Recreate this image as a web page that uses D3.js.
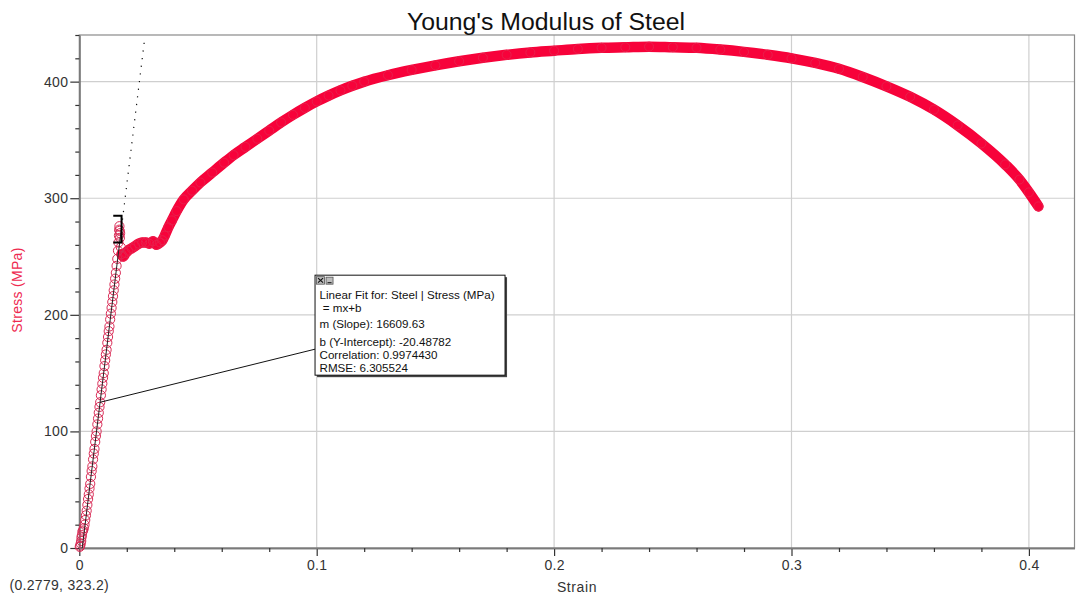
<!DOCTYPE html>
<html><head><meta charset="utf-8">
<script src="https://cdn.jsdelivr.net/npm/d3@7"></script>
<style>body{margin:0;background:#fff;} svg{display:block;font-family:"Liberation Sans",Arial,sans-serif;}</style>
</head><body><svg id="c" width="1079" height="596"></svg>
<script>
const title = "Young's Modulus of Steel";
const xLabel = "Strain";
const yLabel = "Stress (MPa)";
const cursorReadout = "(0.2779, 323.2)";

const elasticStrain = [0.0002,0.0004,0.0006,0.0008,0.0009,0.0011,0.0013,0.0016,0.0019,0.0022,0.0025,0.0028,0.0031,0.0034,0.0037,0.0040,0.0043,0.0046,0.0049,0.0052,0.0055,0.0058,0.0061,0.0064,0.0067,0.0070,0.0073,0.0076,0.0079,0.0082,0.0085,0.0088,0.0091,0.0094,0.0097,0.0100,0.0103,0.0106,0.0109,0.0112,0.0115,0.0118,0.0121,0.0124,0.0127,0.0130,0.0133,0.0136,0.0139,0.0142,0.0145,0.0148,0.0151,0.0154,0.0157,0.0160,0.0163,0.0165,0.0167,0.0168,0.0169,0.0170,0.0171,0.0172,0.0175];
const elasticStress = [1,2,4,6,9,11,14,15,17,20,24,28,32,37,42,46,51,55,61,66,70,76,81,85,91,96,100,106,111,116,121,125,131,136,141,146,150,156,161,166,170,176,181,186,190,196,201,206,211,216,221,226,231,236,242,248,255,262,268,273,276,272,266,270,258];

const plasticStrain = [0.0178,0.0185,0.0195,0.0205,0.0220,0.0235,0.0250,0.0265,0.0280,0.0295,0.0310,0.0325,0.0340,0.0350,0.0360,0.0375,0.0390,0.0410,0.0440,0.0475,0.0510,0.0560,0.0610,0.0650,0.0700,0.0750,0.0800,0.0850,0.0900,0.0950,0.1000,0.1050,0.1100,0.1150,0.1200,0.1300,0.1400,0.1500,0.1600,0.1700,0.1800,0.1900,0.2000,0.2100,0.2200,0.2300,0.2400,0.2500,0.2600,0.2700,0.2800,0.2900,0.3000,0.3100,0.3200,0.3300,0.3400,0.3500,0.3600,0.3700,0.3800,0.3900,0.3960,0.4000,0.4040];
const plasticStress = [252,250,253,255,257,259,261,262,262,261,263,260,262,264,268,275,281,289,299,306.5,313.5,322,330.5,337,344,351,358,365,371.5,377.5,383,388,392.5,396.5,400,405.5,410,414,417.5,420.5,423,425,426.5,428,429,429.5,430,429.5,429,427.5,425.5,423,420,416,411,404,396,387,376,362.5,347,329,316,305,293];

const xMajorTicks = [0, 0.1, 0.2, 0.3, 0.4];
const xTickLabels = ["0", "0.1", "0.2", "0.3", "0.4"];
const xMinorTicks = [0.02,0.04,0.06,0.08,0.12,0.14,0.16,0.18,0.22,0.24,0.26,0.28,0.32,0.34,0.36,0.38];
const yMajorTicks = [0, 100, 200, 300, 400];
const yTickLabels = ["0", "100", "200", "300", "400"];
const yMinorTicks = [20,40,60,80,120,140,160,180,220,240,260,280,320,340,360,380,420,440];

const fitText = ["Linear Fit for: Steel | Stress (MPa)", " = mx+b", "m (Slope): 16609.63", "b (Y-Intercept): -20.48782", "Correlation: 0.9974430", "RMSE: 6.305524"];
const fitSlope = 16609.63;
const fitIntercept = -20.48782;
const fitSolidStress = [0, 275];
const fitDottedEndStress = 434;
const bracketStrain = [0.0143, 0.0178];
const bracketStress = [285, 262];
const leaderStress = 125;
const boxAnchor = [0.0993, 234]; // strain, stress of box top-left

const m = {left: 79.3, top: 35, right: 1074.5, bottom: 548};
const x = d3.scaleLinear().domain([0, (m.right - m.left) / 2374]).range([m.left, m.right]);
const y = d3.scaleLinear().domain([0, 440]).range([m.bottom, m.top]);
const svg = d3.select("#c");
const red = "#f7023a";

// grid
svg.append("g").selectAll("line").data(xMajorTicks.slice(1)).join("line")
  .attr("x1", d => x(d)).attr("x2", d => x(d)).attr("y1", m.top).attr("y2", m.bottom)
  .attr("stroke", "#cfcfcf").attr("stroke-width", 1.2);
svg.append("g").selectAll("line").data(yMajorTicks.slice(1)).join("line")
  .attr("y1", d => y(d)).attr("y2", d => y(d)).attr("x1", m.left).attr("x2", m.right)
  .attr("stroke", "#cfcfcf").attr("stroke-width", 1.2);

// frame
svg.append("rect").attr("x", m.left).attr("y", m.top).attr("width", m.right - m.left).attr("height", m.bottom - m.top)
  .attr("fill", "none").attr("stroke", "#8a8a8a").attr("stroke-width", 1.2);

// axes
const xAxis = svg.append("g").attr("transform", `translate(0,${m.bottom})`)
  .call(d3.axisBottom(x).tickValues(xMajorTicks).tickSize(8).tickSizeOuter(0).tickPadding(4)
    .tickFormat((d, i) => xTickLabels[i]));
const xMinor = svg.append("g").attr("transform", `translate(0,${m.bottom})`)
  .call(d3.axisBottom(x).tickValues(xMinorTicks).tickSize(4).tickSizeOuter(0).tickFormat(""));
const yAxis = svg.append("g").attr("transform", `translate(${m.left},0)`)
  .call(d3.axisLeft(y).tickValues(yMajorTicks).tickSize(9).tickSizeOuter(0).tickPadding(2)
    .tickFormat((d, i) => yTickLabels[i]));
const yMinor = svg.append("g").attr("transform", `translate(${m.left},0)`)
  .call(d3.axisLeft(y).tickValues(yMinorTicks).tickSize(4).tickSizeOuter(0).tickFormat(""));
[xAxis, xMinor, yAxis, yMinor].forEach(g => {
  g.select(".domain").attr("stroke", "#7a7a7a").attr("stroke-width", 1.6);
  g.selectAll(".tick line").attr("stroke", "#333").attr("stroke-width", 1.2);
  g.selectAll("text").attr("font-family", "Liberation Sans, Arial, sans-serif").attr("font-size", 14)
    .attr("letter-spacing", 0.3).attr("fill", "#333");
});

// data band (plastic)
const band = d3.line().x((d, i) => x(plasticStrain[i])).y((d, i) => y(plasticStress[i])).curve(d3.curveMonotoneX);
svg.append("path").attr("d", band(plasticStrain)).attr("fill", "none").attr("stroke", red)
  .attr("stroke-width", 10.5).attr("stroke-linecap", "round").attr("stroke-linejoin", "round");
svg.append("g").selectAll("circle").data(plasticStrain).join("circle")
  .attr("cx", (d) => x(d)).attr("cy", (d, i) => y(plasticStress[i])).attr("r", 4.5)
  .attr("fill", "none").attr("stroke", "#e8204c").attr("stroke-width", 1);

// elastic circles
svg.append("g").selectAll("circle").data(elasticStrain).join("circle")
  .attr("cx", d => x(d)).attr("cy", (d, i) => y(elasticStress[i])).attr("r", 4.6)
  .attr("fill", "none").attr("stroke", "#d92a55").attr("stroke-width", 1);

// fit line
const fitX = s => (s - fitIntercept) / fitSlope;
svg.append("line").attr("x1", x(fitX(fitSolidStress[0]))).attr("y1", y(fitSolidStress[0]))
  .attr("x2", x(fitX(fitSolidStress[1]))).attr("y2", y(fitSolidStress[1]))
  .attr("stroke", "#222").attr("stroke-width", 1);
svg.append("line").attr("x1", x(fitX(fitSolidStress[1]))).attr("y1", y(fitSolidStress[1]))
  .attr("x2", x(fitX(fitDottedEndStress))).attr("y2", y(fitDottedEndStress))
  .attr("stroke", "#111").attr("stroke-width", 1.2).attr("stroke-dasharray", "1.2,6.5");

// bracket
svg.append("path").attr("d",
  `M${x(bracketStrain[0])},${y(bracketStress[0])}H${x(bracketStrain[1])}V${y(bracketStress[1])}H${x(bracketStrain[0])}`)
  .attr("fill", "none").attr("stroke", "#000").attr("stroke-width", 2);

// annotation box
const bx = x(boxAnchor[0]), by = y(boxAnchor[1]), bw = 190, bh = 100;
svg.append("line").attr("x1", x(fitX(leaderStress))).attr("y1", y(leaderStress))
  .attr("x2", bx).attr("y2", by + 74).attr("stroke", "#111").attr("stroke-width", 1);
svg.append("rect").attr("x", bx + 2).attr("y", by + 2).attr("width", bw).attr("height", bh).attr("fill", "#444");
svg.append("rect").attr("x", bx).attr("y", by).attr("width", bw).attr("height", bh)
  .attr("fill", "#fff").attr("stroke", "#111").attr("stroke-width", 1);
// icons
svg.append("rect").attr("x", bx + 1.5).attr("y", by + 1.5).attr("width", 8).attr("height", 7.5)
  .attr("fill", "#bdbdbd").attr("stroke", "#555").attr("stroke-width", 0.8);
svg.append("path").attr("d", `M${bx+3},${by+3}L${bx+8},${by+7.5}M${bx+8},${by+3}L${bx+3},${by+7.5}`)
  .attr("stroke", "#111").attr("stroke-width", 1.2);
svg.append("rect").attr("x", bx + 11).attr("y", by + 2).attr("width", 7).attr("height", 7)
  .attr("fill", "#bdbdbd").attr("stroke", "#555").attr("stroke-width", 0.8);
svg.append("line").attr("x1", bx + 12.5).attr("x2", bx + 16.5).attr("y1", by + 7.5).attr("y2", by + 7.5)
  .attr("stroke", "#111").attr("stroke-width", 1);
const lineY = [24.3, 36.7, 53.3, 71, 84.3, 96.7];
svg.append("g").selectAll("text").data(fitText).join("text")
  .attr("x", bx + 4.5).attr("y", (d, i) => by + lineY[i]).attr("font-size", 11.6).attr("fill", "#111")
  .attr("xml:space", "preserve").style("white-space", "pre").text(d => d);

// titles
svg.append("text").attr("x", 546).attr("y", 29.5).attr("text-anchor", "middle").attr("font-size", 24.8)
  .attr("fill", "#111").text(title);
svg.append("text").attr("x", 577).attr("y", 592).attr("text-anchor", "middle").attr("font-size", 14)
  .attr("letter-spacing", 0.6).attr("fill", "#333").text(xLabel);
svg.append("text").attr("transform", "translate(22,290) rotate(-90)").attr("text-anchor", "middle")
  .attr("font-size", 14).attr("letter-spacing", 0.3).attr("fill", "#ee2a50").text(yLabel);
svg.append("text").attr("x", 9.5).attr("y", 589.5).attr("font-size", 14).attr("letter-spacing", 0.3)
  .attr("fill", "#333").text(cursorReadout);
</script></body></html>
